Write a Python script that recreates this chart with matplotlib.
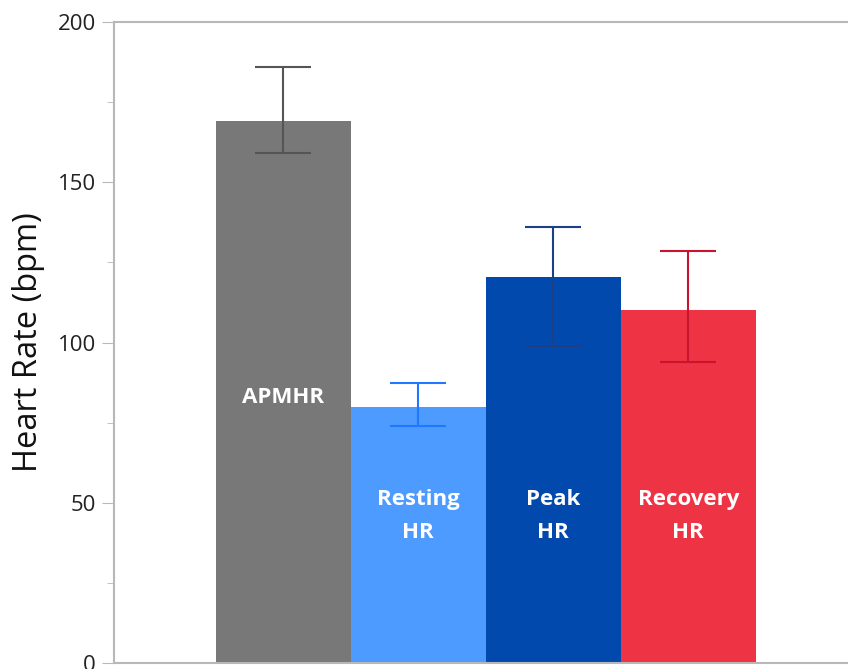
import matplotlib
matplotlib.use('Agg')
import matplotlib.pyplot as plt
from matplotlib.ticker import MultipleLocator
import numpy as np

plt.rcParams['font.family'] = ['Open Sans', 'DejaVu Sans']

labels = ['APMHR', 'Resting\nHR', 'Peak\nHR', 'Recovery\nHR']
means = [169, 80, 120.5, 110]
err_low = [159, 74, 99, 94]
err_high = [186, 87.5, 136, 128.5]
bar_colors = ['#787878', '#4d9bff', '#0249ae', '#ee3344']
err_colors = ['#555555', '#1f78ff', '#1d3f86', '#c8142e']
label_y = [83, 46, 46, 46]

fig = plt.figure(figsize=(8.48, 6.69), dpi=100)
ax = fig.add_axes([0.1344, 0.009, 0.916, 0.958])

x = np.arange(len(labels))
ax.bar(x, means, width=1.0, color=bar_colors, zorder=2)
for i in range(len(x)):
    yerr = [[means[i] - err_low[i]], [err_high[i] - means[i]]]
    ax.errorbar(x[i], means[i], yerr=yerr, fmt='none', ecolor=err_colors[i],
                elinewidth=1.5, capsize=20, capthick=1.5, zorder=3)
    ax.text(x[i], label_y[i], labels[i], ha='center', va='center', color='white',
            fontsize=16, fontweight='bold', linespacing=1.75, zorder=4)

ax.set_xlim(-1.255, 4.5)
ax.set_ylim(0, 200)
ax.yaxis.set_major_locator(MultipleLocator(50))
ax.yaxis.set_minor_locator(MultipleLocator(25))
ax.set_xticks([])
for s in ax.spines.values():
    s.set_color('#b8b8b8')
    s.set_linewidth(1.5)
ax.tick_params(axis='y', which='major', length=9, color='#b8b8b8', labelsize=16,
               labelcolor='#222222', pad=4)
ax.tick_params(axis='y', which='minor', length=5, color='#b8b8b8')
ax.set_ylabel('Heart Rate (bpm)', fontsize=23.5, labelpad=9, color='#111111')

fig.savefig('out.png', dpi=100)
